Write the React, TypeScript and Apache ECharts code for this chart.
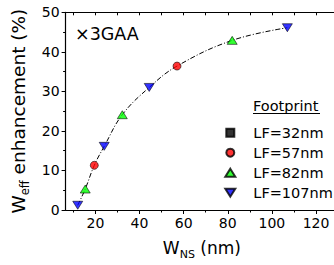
import React, { useEffect, useRef } from "react";
import * as echarts from "echarts";

const FONT = "DejaVu Sans";

// tick values
const xMajorTicks = [20, 40, 60, 80, 100, 120];
const xMinorTicks = [10, 30, 50, 70, 90, 110, 130];
const xAllTicks = [10, 20, 30, 40, 50, 60, 70, 80, 90, 100, 110, 120, 130];

// series values [W_NS (nm), Weff enhancement (%)]
const lf32: number[][] = [];
const lf57 = [
  [19.5, 11.3],
  [57, 36.4],
];
const lf82 = [
  [15.4, 5.3],
  [32.2, 24.1],
  [82, 42.9],
];
const lf107 = [
  [12, 1.2],
  [24, 16.1],
  [44.4, 31.0],
  [107, 46.1],
];
// dash-dot guide curve
const guideCurve = [
  [12, 1.2],
  [15.4, 5.3],
  [19.5, 11.3],
  [24, 16.1],
  [32.2, 24.1],
  [44.4, 31.0],
  [57, 36.4],
  [82, 42.9],
  [107, 46.1],
];

const seriesNames = ["LF=32nm", "LF=57nm", "LF=82nm", "LF=107nm"];

export default function App() {
  const ref = useRef<HTMLDivElement>(null);
  useEffect(() => {
    if (!ref.current) return;
    const chart = echarts.init(ref.current, undefined, { renderer: "svg" });
    const axisLine = { show: true, lineStyle: { color: "#000", width: 1.2 } };
    const richX = {
      a: { fontSize: 17, fontFamily: FONT, color: "#000", lineHeight: 24 },
      b: { fontSize: 11, fontFamily: FONT, color: "#000", lineHeight: 12, verticalAlign: "bottom" },
    };
    const richY = {
      a: { fontSize: 18.5, fontFamily: FONT, color: "#000", lineHeight: 24 },
      b: { fontSize: 11.5, fontFamily: FONT, color: "#000", lineHeight: 12, verticalAlign: "bottom" },
    };
    const markerBorder = { borderColor: "#000", borderWidth: 0.7 };
    chart.setOption({
      animation: false,
      grid: { left: 65.6, top: 12.3, width: 272.5, height: 200.2 },
      xAxis: [
        {
          type: "value",
          min: 6.5,
          max: 130,
          position: "bottom",
          axisLine,
          axisTick: { show: true, customValues: xMajorTicks, length: 4, lineStyle: { color: "#000", width: 1 } },
          axisLabel: { customValues: xMajorTicks, margin: 6, fontSize: 14, fontFamily: FONT, color: "#000" },
          splitLine: { show: false },
          name: "{a|W}{b|NS}{a| (nm)}",
          nameLocation: "middle",
          nameGap: 26,
          nameTextStyle: { rich: richX },
        },
        {
          type: "value",
          min: 6.5,
          max: 130,
          position: "bottom",
          axisLine: { show: false },
          axisTick: { show: true, customValues: xMinorTicks, length: 2.5, lineStyle: { color: "#000", width: 1 } },
          axisLabel: { show: false },
          splitLine: { show: false },
        },
        {
          type: "value",
          min: 6.5,
          max: 130,
          position: "top",
          axisLine,
          axisTick: { show: true, inside: true, customValues: xAllTicks, length: 3, lineStyle: { color: "#000", width: 1 } },
          axisLabel: { show: false },
          splitLine: { show: false },
        },
      ],
      yAxis: {
        type: "value",
        min: 0,
        max: 50,
        interval: 10,
        axisLine,
        axisTick: { show: true, length: 4, lineStyle: { color: "#000", width: 1 } },
        minorTick: { show: true, splitNumber: 2, length: 2.5, lineStyle: { color: "#000", width: 1 } },
        axisLabel: { margin: 6, fontSize: 14, fontFamily: FONT, color: "#000" },
        splitLine: { show: false },
        minorSplitLine: { show: false },
        name: "{a|W}{b|eff}{a| enhancement (%)}",
        nameLocation: "middle",
        nameRotate: 90,
        nameGap: 29,
        nameTextStyle: { rich: richY },
      },
      legend: {
        data: seriesNames,
        orient: "vertical",
        left: 224.3,
        top: 125.2,
        padding: 0,
        itemWidth: 10,
        itemHeight: 8,
        itemGap: 5,
        textStyle: { fontSize: 14.5, fontFamily: FONT, color: "#000", lineHeight: 15, padding: [0, 0, 0, 13] },
      },
      graphic: [
        {
          type: "text",
          left: 75,
          top: 25,
          style: { text: "×3GAA", fontSize: 17.5, fontFamily: FONT, fill: "#000" },
        },
        {
          type: "text",
          left: 253,
          top: 98,
          style: { text: "Footprint", fontSize: 14.5, fontFamily: FONT, fill: "#000" },
        },
        {
          type: "line",
          shape: { x1: 253, y1: 113.5, x2: 320, y2: 113.5 },
          style: { stroke: "#000", lineWidth: 1 },
        },
      ],
      series: [
        {
          type: "line",
          data: guideCurve,
          smooth: 0.4,
          showSymbol: false,
          symbol: "none",
          lineStyle: { color: "#000", width: 1, type: [5, 2, 1, 2] },
          z: 1,
          silent: true,
        },
        {
          name: seriesNames[0],
          type: "scatter",
          data: lf32,
          symbol: "path://M0,0L7,0L7,7L0,7Z",
          symbolKeepAspect: true,
          symbolSize: 7,
          itemStyle: { color: "#000", ...markerBorder },
          z: 2,
        },
        {
          name: seriesNames[1],
          type: "scatter",
          data: lf57,
          symbol: "circle",
          symbolSize: 8,
          itemStyle: { color: "#ff0000", ...markerBorder },
          z: 3,
        },
        {
          name: seriesNames[2],
          type: "scatter",
          data: lf82,
          symbol: "triangle",
          symbolSize: [10, 8],
          itemStyle: { color: "#00ff00", ...markerBorder },
          z: 3,
        },
        {
          name: seriesNames[3],
          type: "scatter",
          data: lf107,
          symbol: "path://M0,0L10,0L5,8Z",
          symbolSize: [10, 8],
          itemStyle: { color: "#0000ff", ...markerBorder },
          z: 3,
        },
      ],
    });
    return () => chart.dispose();
  }, []);
  return (
    <div style={{ position: "fixed", left: 0, top: 0, width: 334, height: 265, overflow: "hidden", background: "#fff" }}>
      <div ref={ref} style={{ width: 345, height: 265 }} />
    </div>
  );
}
